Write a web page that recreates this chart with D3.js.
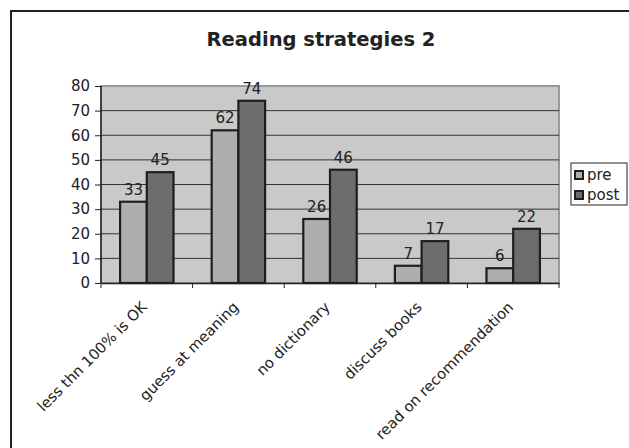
<!DOCTYPE html>
<html><head><meta charset="utf-8">
<script src="https://cdn.jsdelivr.net/npm/d3@7"></script>
<style>body{margin:0;background:#fff}svg{display:block}text{font-family:"DejaVu Sans",Verdana,sans-serif;fill:#222}</style>
</head><body><svg id="c" width="629" height="448"></svg>
<script>
const categories = ["less thn 100% is OK","guess at meaning","no dictionary","discuss books","read on recommendation"];
const seriesNames = ["pre","post"];
const preValues = [33,62,26,7,6];
const postValues = [45,74,46,17,22];
const yTicks = [0,10,20,30,40,50,60,70,80];
const colors = {pre:"#aeaeae", post:"#6d6d6d"};

const svg = d3.select("#c");
svg.append("rect").attr("x",11).attr("y",11).attr("width",640).attr("height",460)
  .attr("fill","#fff").attr("stroke","#222").attr("stroke-width",2);

svg.append("text").attr("x",321).attr("y",46).attr("text-anchor","middle")
  .style("font-weight","bold").style("font-size","19.5px").text("Reading strategies 2");

const L=101, R=559, T=86, B=283;
const x = d3.scaleBand().domain(categories).range([L,R]).paddingInner(0).paddingOuter(0);
const y = d3.scaleLinear().domain([0,80]).range([B,T]);
const bw = x.bandwidth()/3.43;
const xs = d3.scaleBand().domain(seriesNames).range([0,2*bw]);

const g = svg.append("g");
g.append("rect").attr("x",L).attr("y",T).attr("width",R-L).attr("height",B-T)
  .attr("fill","#c9c9c9").attr("stroke","#999").attr("stroke-width",2);
g.selectAll("line.grid").data(yTicks.filter(d=>d>0 && d<80)).join("line")
  .attr("x1",L).attr("x2",R).attr("y1",d=>y(d)).attr("y2",d=>y(d))
  .attr("stroke","#333").attr("stroke-width",1);

const data = [];
categories.forEach((c,i)=>{
  data.push({c,s:"pre",v:preValues[i]});
  data.push({c,s:"post",v:postValues[i]});
});
const off = (x.bandwidth()-2*bw)/2;
g.selectAll("rect.bar").data(data).join("rect")
  .attr("x",d=>x(d.c)+off+xs(d.s)).attr("y",d=>y(d.v))
  .attr("width",bw).attr("height",d=>B-y(d.v))
  .attr("fill",d=>colors[d.s]).attr("stroke","#1e1e1e").attr("stroke-width",2.2);
g.selectAll("text.lbl").data(data).join("text")
  .attr("x",d=>x(d.c)+off+xs(d.s)+bw/2).attr("y",d=>y(d.v)-7)
  .attr("text-anchor","middle").style("font-size","15px").text(d=>d.v);

// y axis
const ya = svg.append("g").attr("transform",`translate(${L},0)`)
  .call(d3.axisLeft(y).tickValues(yTicks).tickSize(6).tickPadding(5));
ya.select(".domain").attr("stroke","#222").attr("stroke-width",1.5).attr("d",`M-0,${B}V${T}`);
ya.selectAll(".tick line").attr("stroke","#222");
ya.selectAll(".tick text").style("font-size","15px").style("font-family","DejaVu Sans").attr("fill","#222");

// x axis
const xa = svg.append("g").attr("transform",`translate(0,${B})`)
  .call(d3.axisBottom(x).tickSize(0).tickFormat(""));
xa.select(".domain").attr("stroke","#222").attr("stroke-width",1.5);
const bounds = categories.map(c=>x(c)).concat([R]);
xa.selectAll("line.tk").data(bounds).join("line").attr("class","tk")
  .attr("x1",d=>d).attr("x2",d=>d).attr("y1",0).attr("y2",5).attr("stroke","#222");
svg.selectAll("text.cat").data(categories).join("text").attr("class","cat")
  .attr("text-anchor","end").style("font-size","14.8px")
  .attr("transform",d=>`translate(${x(d)+x.bandwidth()/2+1},${B+25}) rotate(-45)`)
  .text(d=>d);

// legend
const lg = svg.append("g");
lg.append("rect").attr("x",571).attr("y",163).attr("width",56).attr("height",42)
  .attr("fill","#fff").attr("stroke","#222").attr("stroke-width",1);
seriesNames.forEach((s,i)=>{
  lg.append("rect").attr("x",575).attr("y",171+i*20).attr("width",8).attr("height",8)
    .attr("fill",colors[s]).attr("stroke","#1e1e1e").attr("stroke-width",2);
  lg.append("text").attr("x",587).attr("y",180+i*20).style("font-size","15px").text(s);
});
</script></body></html>
